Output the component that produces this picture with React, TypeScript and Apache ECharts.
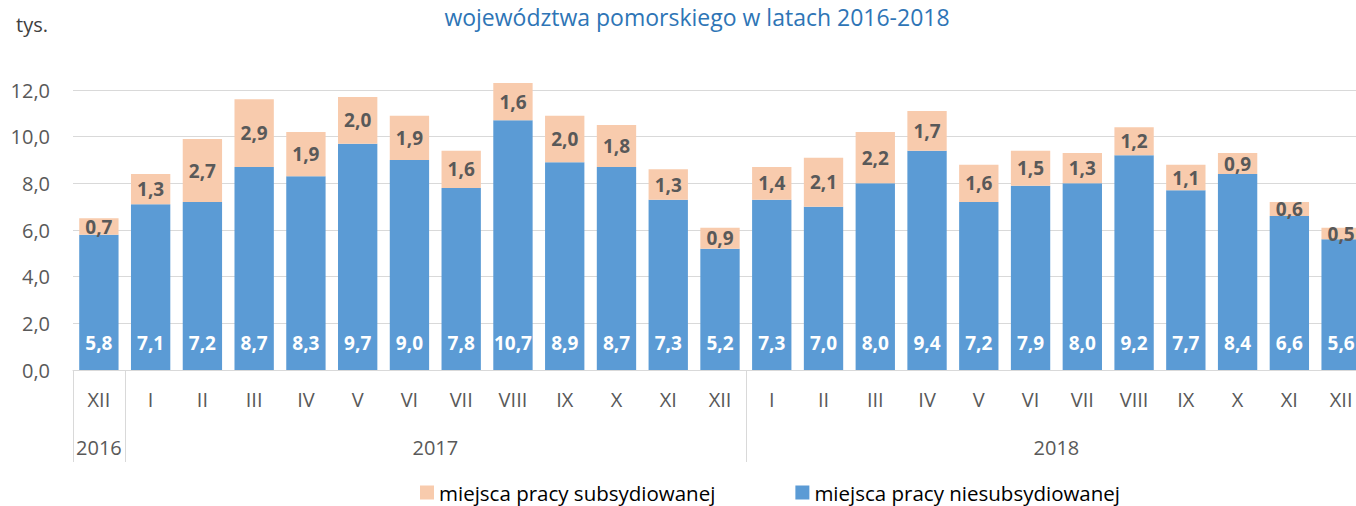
import React, { useEffect, useRef } from "react";
import * as echarts from "echarts";

const months = ["XII", "I", "II", "III", "IV", "V", "VI", "VII", "VIII", "IX", "X", "XI", "XII", "I", "II", "III", "IV", "V", "VI", "VII", "VIII", "IX", "X", "XI", "XII"];
const years = ["2016", "2017", "2018"];
const yearCenters = [0.5, 7, 19];
const yearBoundaries = [0, 1, 13, 25];
const niesub = [5.8, 7.1, 7.2, 8.7, 8.3, 9.7, 9.0, 7.8, 10.7, 8.9, 8.7, 7.3, 5.2, 7.3, 7.0, 8.0, 9.4, 7.2, 7.9, 8.0, 9.2, 7.7, 8.4, 6.6, 5.6];
const sub = [0.7, 1.3, 2.7, 2.9, 1.9, 2.0, 1.9, 1.6, 1.6, 2.0, 1.8, 1.3, 0.9, 1.4, 2.1, 2.2, 1.7, 1.6, 1.5, 1.3, 1.2, 1.1, 0.9, 0.6, 0.5];

const FONT = "Open Sans";
const fmt = (v: number) => v.toFixed(1).replace(".", ",");

export default function App() {
  const ref = useRef<HTMLDivElement>(null);
  useEffect(() => {
    document.body.style.margin = "0";
    const chart = echarts.init(ref.current!, null, { renderer: "svg" });
    chart.setOption({
      animation: false,
      textStyle: { fontFamily: FONT },
      title: {
        text: "województwa pomorskiego w latach 2016-2018",
        left: 692,
        textAlign: "center",
        top: 0,
        textStyle: { color: "#2E75B6", fontSize: 23, fontWeight: "normal", fontFamily: FONT },
      },
      graphic: [
        {
          type: "text",
          left: 16,
          top: 14,
          style: { text: "tys.", fill: "#404040", fontSize: 20, fontFamily: FONT },
        },
      ],
      legend: {
        data: ["miejsca pracy subsydiowanej", "miejsca pracy niesubsydiowanej"],
        left: 415,
        top: 477,
        itemGap: 80,
        itemWidth: 14,
        itemHeight: 14,
        icon: "rect",
        textStyle: { color: "#000000", fontSize: 20.5, fontFamily: FONT },
      },
      grid: { left: 73, width: 1294, top: 90, bottom: 136, containLabel: false, outerBoundsMode: "none" },
      xAxis: [
        {
          type: "category",
          data: months,
          axisLine: { lineStyle: { color: "#D9D9D9", width: 1 } },
          axisTick: { show: false },
          axisLabel: { interval: 0, color: "#595959", fontSize: 20, margin: 19, fontFamily: FONT },
        },
        {
          type: "value",
          position: "bottom",
          offset: 92,
          min: 0,
          max: 25,
          axisLine: { show: false },
          splitLine: { show: false },
          axisTick: {
            show: true,
            inside: true,
            length: 92,
            customValues: yearBoundaries,
            lineStyle: { color: "#D9D9D9", width: 1 },
          },
          axisLabel: {
            inside: true,
            margin: 5,
            customValues: yearCenters,
            color: "#595959",
            fontSize: 20,
            fontFamily: FONT,
            formatter: (v: number) => {
              const i = yearCenters.indexOf(v);
              return i >= 0 ? years[i] : "";
            },
          },
        },
      ],
      yAxis: {
        type: "value",
        min: 0,
        max: 12,
        interval: 2,
        axisLine: { show: false },
        axisTick: { show: false },
        splitLine: { lineStyle: { color: "#D9D9D9", width: 1 } },
        axisLabel: { color: "#595959", fontSize: 20, margin: 23, formatter: (v: number) => fmt(v), fontFamily: FONT },
      },
      series: [
        {
          name: "miejsca pracy niesubsydiowanej",
          type: "bar",
          stack: "total",
          data: niesub,
          barCategoryGap: "24%",
          clip: false,
          itemStyle: { color: "#5B9BD5" },
          label: {
            show: true,
            position: "insideBottom",
            distance: 18,
            color: "#FFFFFF",
            fontWeight: "bold",
            fontSize: 19,
            fontFamily: FONT,
            formatter: (p: any) => fmt(p.value),
          },
        },
        {
          name: "miejsca pracy subsydiowanej",
          type: "bar",
          stack: "total",
          data: sub,
          barCategoryGap: "24%",
          clip: false,
          itemStyle: { color: "#F8CBAD" },
          label: {
            show: true,
            position: "inside",
            color: "#595959",
            fontWeight: "bold",
            fontSize: 19,
            fontFamily: FONT,
            formatter: (p: any) => fmt(p.value),
          },
        },
      ],
    });
    return () => chart.dispose();
  }, []);
  return <div ref={ref} style={{ width: 1356, height: 506 }} />;
}
